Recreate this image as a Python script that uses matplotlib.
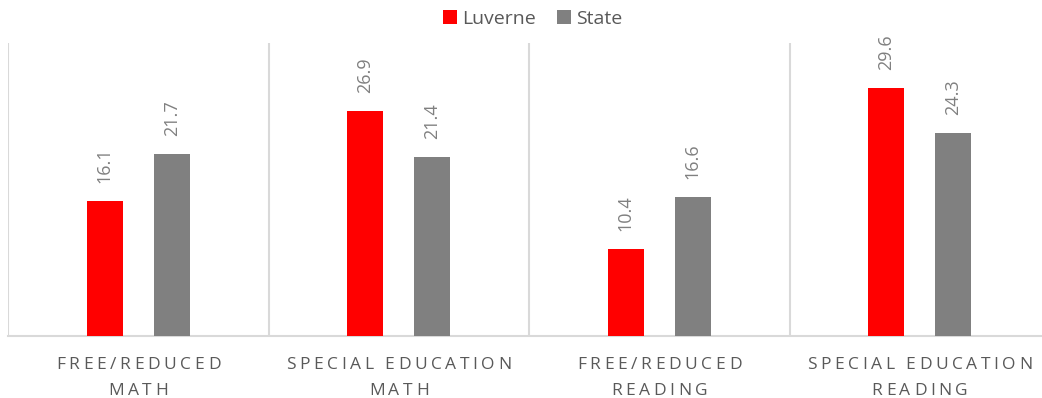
import numpy as np
import matplotlib.pyplot as plt

categories = ["FREE/REDUCED\nMATH", "SPECIAL EDUCATION\nMATH",
              "FREE/REDUCED\nREADING", "SPECIAL EDUCATION\nREADING"]
luverne = [16.1, 26.9, 10.4, 29.6]
state = [21.7, 21.4, 16.6, 24.3]

RED = "#ff0000"
GRAY = "#808080"
TEXT = "#595959"
GRID = "#d9d9d9"

plt.rcParams["font.family"] = ["Open Sans", "DejaVu Sans"]

W, H = 1042, 398
fig = plt.figure(figsize=(W / 100, H / 100), dpi=100)
# axes spans a little past the right edge, like the source layout
x0, x1 = 8, 1050
y_bot, y_top = 336, 43
ax = fig.add_axes([x0 / W, 1 - y_bot / H, (x1 - x0) / W, (y_bot - y_top) / H])

x = np.arange(len(categories))
bw = 0.138
off = 0.129
b1 = ax.bar(x - off, luverne, bw, color=RED, label="Luverne", zorder=3)
b2 = ax.bar(x + off, state, bw, color=GRAY, label="State", zorder=3)

ax.set_xlim(-0.5, len(categories) - 0.5)
ax.set_ylim(0, 35)

for spine in ["top", "right", "left"]:
    ax.spines[spine].set_visible(False)
ax.spines["bottom"].set_color(GRID)
ax.spines["bottom"].set_linewidth(1.5)
ax.set_yticks([])
ax.set_xticks([])

for b in np.arange(-0.5, len(categories), 1.0):
    ax.axvline(b, color=GRID, lw=1.5, zorder=1)

for bars, vals in [(b1, luverne), (b2, state)]:
    for rect, v in zip(bars, vals):
        ax.annotate(f"{v:.1f}", (rect.get_x() + rect.get_width() / 2, v),
                    xytext=(0, 13), textcoords="offset points",
                    rotation=90, ha="center", va="bottom",
                    fontsize=13, color=GRAY)

fig.legend(handles=[b1, b2], labels=["Luverne", "State"],
           loc="center", bbox_to_anchor=(533 / W, 1 - 19 / H), ncol=2,
           frameon=False, fontsize=14, handlelength=0.72, handleheight=0.72,
           handletextpad=0.26, columnspacing=1.08, labelcolor=TEXT)

# letter-spaced category labels, laid out glyph by glyph in pixels
LABEL_SIZE = 12.5
TRACK = 3.6     # px between glyph boxes
WORD_GAP = 7.5  # px between words
fig.canvas.draw()
renderer = fig.canvas.get_renderer()
to_fig = fig.transFigure.inverted()
_w_cache = {}


def glyph_width(c):
    if c not in _w_cache:
        t = fig.text(0, 0, c, fontsize=LABEL_SIZE)
        _w_cache[c] = t.get_window_extent(renderer).width
        t.remove()
    return _w_cache[c]


def draw_spaced(line, cx, baseline):
    widths = [WORD_GAP - TRACK if c == " " else glyph_width(c) for c in line]
    total = sum(widths) + TRACK * (len(line) - 1)
    left = cx - total / 2
    for c, w in zip(line, widths):
        if c != " ":
            fx, fy = to_fig.transform((left, H - baseline))
            fig.text(fx, fy, c, fontsize=LABEL_SIZE, color=TEXT,
                     ha="left", va="baseline")
        left += w + TRACK


line_baselines = [369, 395]
for xi, cat in zip(x, categories):
    cx = ax.transData.transform((xi, 0))[0]
    for bl, line in zip(line_baselines, cat.split("\n")):
        draw_spaced(line, cx, bl)

fig.savefig("out.png", dpi=100)
